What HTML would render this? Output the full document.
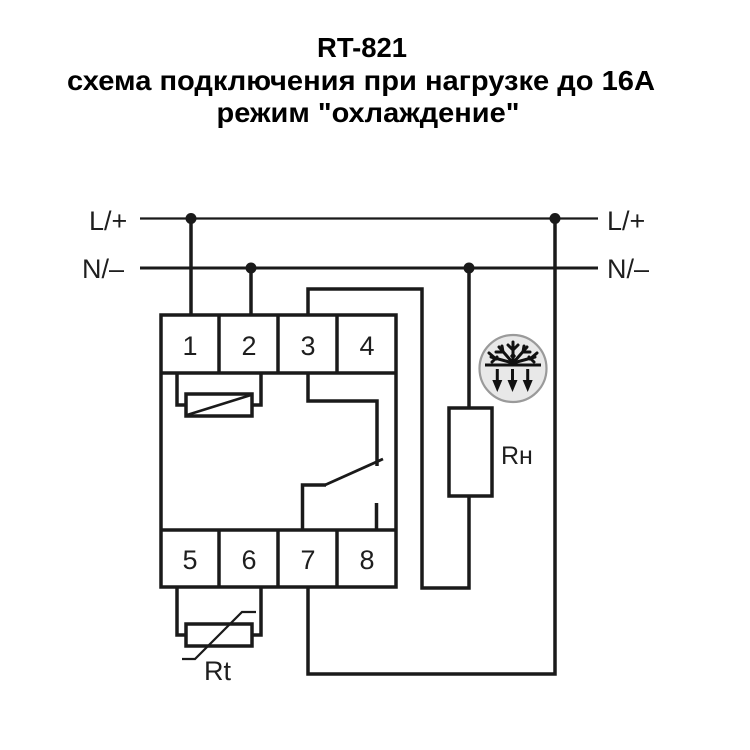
<!DOCTYPE html>
<html>
<head>
<meta charset="utf-8">
<style>
html,body{margin:0;padding:0;background:#fff;}
svg{display:block;}
</style>
</head>
<body>
<svg width="750" height="750" viewBox="0 0 750 750" xmlns="http://www.w3.org/2000/svg">
<rect width="750" height="750" fill="#fff"/>
<!-- Title -->
<g font-family="'Liberation Sans', Arial, sans-serif" font-weight="bold" font-size="28" fill="#000" text-anchor="middle">
  <text x="362" y="57" textLength="90" lengthAdjust="spacingAndGlyphs">RT-821</text>
  <text x="361" y="90" textLength="588" lengthAdjust="spacingAndGlyphs">схема подключения при нагрузке до 16А</text>
  <text x="368" y="122" textLength="303" lengthAdjust="spacingAndGlyphs">режим "охлаждение"</text>
</g>

<g stroke="#1a1a1a" fill="none" stroke-linecap="butt" stroke-linejoin="miter">
  <!-- L line -->
  <line x1="140" y1="218.5" x2="598" y2="218.5" stroke-width="2.2"/>
  <!-- N line -->
  <line x1="140" y1="268" x2="598" y2="268" stroke-width="3"/>

  <!-- terminal 1 to L -->
  <line x1="191" y1="218.5" x2="191" y2="315" stroke-width="3.5"/>
  <!-- terminal 2 to N -->
  <line x1="251" y1="268" x2="251" y2="315" stroke-width="3.5"/>

  <!-- Main box -->
  <rect x="161" y="315" width="235" height="272" stroke-width="3.5"/>
  <line x1="161" y1="373" x2="396" y2="373" stroke-width="3.5"/>
  <line x1="161" y1="530" x2="396" y2="530" stroke-width="3.5"/>
  <line x1="219" y1="315" x2="219" y2="373" stroke-width="3.5"/>
  <line x1="278" y1="315" x2="278" y2="373" stroke-width="3.5"/>
  <line x1="337" y1="315" x2="337" y2="373" stroke-width="3.5"/>
  <line x1="219" y1="530" x2="219" y2="587" stroke-width="3.5"/>
  <line x1="278" y1="530" x2="278" y2="587" stroke-width="3.5"/>
  <line x1="337" y1="530" x2="337" y2="587" stroke-width="3.5"/>

  <!-- coil -->
  <polyline points="177,373 177,405 186,405" stroke-width="3.5"/>
  <polyline points="261,373 261,405 252,405" stroke-width="3.5"/>
  <rect x="186" y="394" width="66" height="22" stroke-width="3.5"/>
  <line x1="187" y1="415" x2="251" y2="395" stroke-width="2.5"/>

  <!-- contact from terminal 3 -->
  <polyline points="308,373 308,401 377,401 377,466" stroke-width="3.5"/>
  <line x1="325" y1="485" x2="383" y2="459" stroke-width="2.8"/>
  <polyline points="302.5,530 302.5,485 326,485" stroke-width="3.5"/>
  <line x1="376.5" y1="503" x2="376.5" y2="530" stroke-width="3.5"/>

  <!-- terminal 3 up and around to load -->
  <polyline points="308,315 308,289 422,289 422,588 469,588 469,496" stroke-width="3.5"/>
  <!-- load resistor -->
  <line x1="469" y1="268" x2="469" y2="408" stroke-width="3.5"/>
  <rect x="449" y="408" width="43" height="88" stroke-width="3.5"/>

  <!-- L vertical to terminal 7 -->
  <polyline points="555,218.5 555,674 308,674 308,587" stroke-width="3.5"/>

  <!-- thermistor -->
  <polyline points="177,587 177,635 186,635" stroke-width="3.5"/>
  <polyline points="261,587 261,635 252,635" stroke-width="3.5"/>
  <rect x="186" y="624" width="66" height="22" stroke-width="3.5"/>
  <polyline points="182,659 195,659 242,612 256,612" stroke-width="2.2"/>
</g>

<!-- junction dots -->
<g fill="#1a1a1a">
  <circle cx="191" cy="218.5" r="5.5"/>
  <circle cx="251" cy="268" r="5.5"/>
  <circle cx="469" cy="268" r="5.5"/>
  <circle cx="555" cy="218.5" r="5.5"/>
</g>

<!-- labels -->
<g font-family="'Liberation Sans', Arial, sans-serif" fill="#1e1e1e" font-size="27">
  <text x="89" y="230">L/+</text>
  <text x="82" y="278">N/–</text>
  <text x="607" y="230">L/+</text>
  <text x="607" y="278">N/–</text>
</g>
<g font-family="'Liberation Sans', Arial, sans-serif" fill="#1e1e1e" font-size="27" text-anchor="middle">
  <text x="190" y="355">1</text>
  <text x="249" y="355">2</text>
  <text x="308" y="355">3</text>
  <text x="367" y="355">4</text>
  <text x="190" y="569">5</text>
  <text x="249" y="569">6</text>
  <text x="308" y="569">7</text>
  <text x="367" y="569">8</text>
</g>
<text x="204" y="680" font-family="'Liberation Sans', Arial, sans-serif" font-size="27" fill="#1e1e1e">Rt</text>
<text x="501" y="464" font-family="'Liberation Sans', Arial, sans-serif" font-size="25" fill="#1e1e1e">Rн</text>

<!-- cooling icon -->
<circle cx="513" cy="368.5" r="33.5" fill="#e8e8e8" stroke="#9a9a9a" stroke-width="2.2"/>
<g stroke="#111" stroke-width="3" fill="none" stroke-linecap="round">
  <line x1="485" y1="365" x2="541" y2="365" stroke-width="3" stroke-linecap="butt"/>
  <!-- snowflake half -->
  <line x1="513" y1="364" x2="513" y2="342"/>
  <line x1="513" y1="363" x2="499" y2="347"/>
  <line x1="513" y1="363" x2="527" y2="347"/>
  <line x1="513" y1="363" x2="491" y2="357"/>
  <line x1="513" y1="363" x2="535" y2="357"/>
  <line x1="508" y1="345" x2="513" y2="350"/>
  <line x1="518" y1="345" x2="513" y2="350"/>
  <line x1="496" y1="352" x2="503" y2="352"/>
  <line x1="502" y1="346" x2="503" y2="352"/>
  <line x1="530" y1="352" x2="523" y2="352"/>
  <line x1="524" y1="346" x2="523" y2="352"/>
  <line x1="492" y1="362" x2="497" y2="357"/>
  <line x1="534" y1="362" x2="529" y2="357"/>
  <line x1="489" y1="353" x2="496" y2="359"/>
  <line x1="537" y1="353" x2="530" y2="359"/>
  <!-- arrows shafts -->
  <line x1="497.3" y1="369" x2="497.3" y2="383" stroke-width="3" stroke-linecap="butt"/>
  <line x1="512.5" y1="369" x2="512.5" y2="383" stroke-width="3" stroke-linecap="butt"/>
  <line x1="527.7" y1="369" x2="527.7" y2="383" stroke-width="3" stroke-linecap="butt"/>
</g>
<path d="M510,356 L513,352 L516,356 L513,360 Z" fill="#111"/>
<g fill="#111">
  <polygon points="492.3,380 502.3,380 497.3,392"/>
  <polygon points="507.5,380 517.5,380 512.5,392"/>
  <polygon points="522.7,380 532.7,380 527.7,392"/>
</g>
</svg>
</body>
</html>
